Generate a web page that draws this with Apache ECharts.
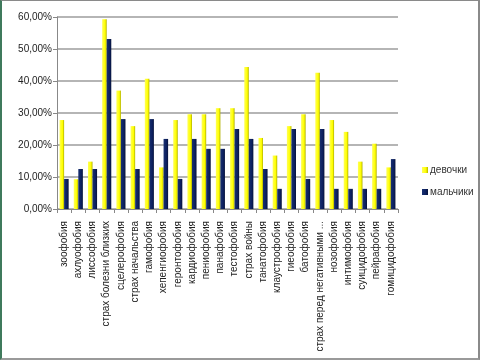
<!DOCTYPE html>
<html>
<head>
<meta charset="utf-8">
<script src="https://cdn.jsdelivr.net/npm/echarts@6/dist/echarts.min.js"></script>
<style>
html,body{margin:0;padding:0;background:#fff;}
#wrap{position:relative;width:480px;height:360px;}
#chart{position:absolute;left:0;top:0;width:480px;height:360px;}
#frame{position:absolute;left:0;top:0;width:480px;height:360px;box-sizing:border-box;
border-top:1px solid #8a8a8a;border-right:2px solid #8a8a8a;border-bottom:2px solid #9a9a9a;border-left:2px solid #3f7a5c;pointer-events:none;}
</style>
</head>
<body>
<div id="wrap"><div id="chart"></div><div id="frame"></div></div>
<script>
var categories = ["зоофобия","ахлуофобия","лиссофобия","страх болезни близких","сцелерофобия","страх начальства","гамофобия","хепенгиофобия","геронтофобия","кардиофобия","пениофобия","панафобия","тестофобия","страх войны","танатофобия","клаустрофобия","гиеофобия","батофобия","страх перед негативными ...","нозофобия","интимофобия","суицидофобия","пейрафобия","гомицидофобия"];
var girls = [27.8, 9.3, 14.8, 59.3, 37.0, 25.9, 40.7, 13.0, 27.8, 29.6, 29.6, 31.5, 31.5, 44.4, 22.2, 16.7, 25.9, 29.6, 42.6, 27.8, 24.1, 14.8, 20.4, 13.0];
var boys = [9.4, 12.5, 12.5, 53.1, 28.1, 12.5, 28.1, 21.9, 9.4, 21.9, 18.8, 18.8, 25.0, 21.9, 12.5, 6.3, 25.0, 9.4, 25.0, 6.3, 6.3, 6.3, 6.3, 15.6];
var seriesNames = ["девочки", "мальчики"];

var chart = echarts.init(document.getElementById('chart'), null, {renderer:'canvas'});
var font = '"Liberation Sans", Arial, sans-serif';
function grad(c1, c2, c3){
  return new echarts.graphic.LinearGradient(0,0,1,0,[{offset:0,color:c1},{offset:0.65,color:c2},{offset:1,color:c3}]);
}
chart.setOption({
  animation:false,
  textStyle:{fontFamily:font},
  grid:{left:57, right:82, top:17, bottom:151, containLabel:false},
  legend:{
    orient:'vertical', left:422, top:165, itemWidth:6, itemHeight:6, itemGap:12, padding:0,
    icon:'rect',
    textStyle:{fontSize:10, color:'#333', fontFamily:font, padding:[0,0,0,-3]},
    data:seriesNames
  },
  xAxis:{
    type:'category', data:categories, boundaryGap:true,
    axisLine:{lineStyle:{color:'#888', width:1}},
    axisTick:{show:true, interval:0, length:4, lineStyle:{color:'#888'}},
    axisLabel:{rotate:90, interval:0, fontSize:10, color:'#222', margin:12, fontFamily:font}
  },
  yAxis:{
    type:'value', min:0, max:60, interval:10,
    axisLine:{show:true, lineStyle:{color:'#888', width:1}},
    axisTick:{show:true, length:4, lineStyle:{color:'#888'}},
    splitLine:{lineStyle:{color:'#9c9c9c', width:1.5}},
    axisLabel:{fontSize:10, color:'#222', margin:5, fontFamily:font,
      formatter:function(v){return v.toFixed(2).replace('.', ',') + '%';}}
  },
  series:[
    {name:seriesNames[0], type:'bar', data:girls, barGap:'0%', barCategoryGap:'36%',
     itemStyle:{color:grad('#ffff55','#ffff00','#b0b000')}},
    {name:seriesNames[1], type:'bar', data:boys,
     itemStyle:{color:grad('#183070','#0c1f5e','#061238')}}
  ]
});
</script>
</body>
</html>
